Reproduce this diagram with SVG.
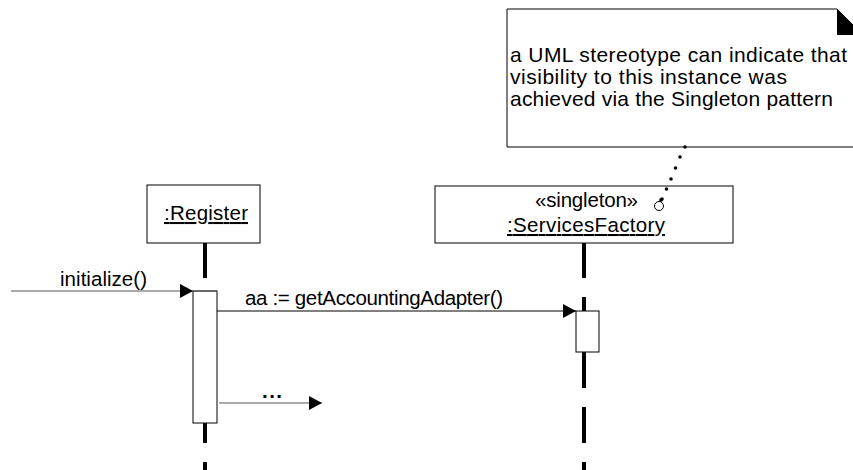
<svg xmlns="http://www.w3.org/2000/svg" width="853" height="470" viewBox="0 0 853 470">
<style>
text{font-family:"Liberation Sans",Arial,sans-serif;font-size:20.5px;fill:#000}
.note{font-size:21px}
.box{fill:#fff;stroke:#000;stroke-width:1}
.life{stroke:#000;stroke-width:4;stroke-dasharray:36 19}
.msg{stroke:#000;stroke-width:1;fill:none}
.grey{stroke:#555}
.dot{fill:#000}
</style>
<defs>
<marker id="arr" markerWidth="14" markerHeight="14" refX="13" refY="7" orient="auto" markerUnits="userSpaceOnUse">
<path d="M0,0 L13,7 L0,14 z" fill="#000"/>
</marker>
</defs>

<g id="note">
<path class="box" d="M507,9 L837,9 L863,35 L863,147 L507,147 Z"/>
<polygon points="837,9 837,35 863,35" fill="#000"/>
<text class="note" x="510" y="62" textLength="337" lengthAdjust="spacing">a UML stereotype can indicate that</text>
<text class="note" x="510" y="84" textLength="277" lengthAdjust="spacing">visibility to this instance was</text>
<text class="note" x="510" y="106" textLength="323" lengthAdjust="spacing">achieved via the Singleton pattern</text>
</g>

<g id="register">
<line class="life" x1="205" y1="242" x2="205" y2="470"/>
<rect class="box" x="147" y="185" width="113" height="58"/>
<text x="164" y="220" textLength="84" lengthAdjust="spacing" text-decoration="underline">:Register</text>
<rect id="register-activation" class="box" x="193" y="291" width="24" height="132"/>
</g>

<g id="servicesfactory">
<line class="life" x1="584" y1="242" x2="584" y2="470"/>
<rect class="box" x="435" y="186" width="298" height="57"/>
<text x="535" y="207" textLength="103" lengthAdjust="spacing">«singleton»</text>
<text x="507" y="232" textLength="158" lengthAdjust="spacing" text-decoration="underline">:ServicesFactory</text>
<rect id="sf-activation" class="box" x="576" y="311" width="23" height="41"/>
</g>

<g id="connectors">
<line class="msg grey" x1="11" y1="291" x2="193" y2="291" marker-end="url(#arr)"/>
<line class="msg grey" x1="193" y1="291" x2="217" y2="291"/>
<text x="60" y="286" textLength="87" lengthAdjust="spacing">initialize()</text>
<line class="msg" x1="217" y1="311" x2="576" y2="311" marker-end="url(#arr)"/>
<text x="245" y="305" textLength="258" lengthAdjust="spacing">aa := getAccountingAdapter()</text>
<line class="msg grey" x1="219" y1="403" x2="322" y2="403" marker-end="url(#arr)"/>
<text x="262" y="398" font-weight="bold" textLength="20" lengthAdjust="spacing">...</text>
<g id="note-link">
<circle class="dot" cx="685" cy="147" r="1.8"/>
<circle class="dot" cx="680" cy="157" r="1.8"/>
<circle class="dot" cx="675.5" cy="168" r="1.8"/>
<circle class="dot" cx="671" cy="179" r="1.8"/>
<circle class="dot" cx="666.5" cy="189" r="1.8"/>
<circle class="dot" cx="662" cy="199" r="1.8"/>
<circle cx="659" cy="206" r="4.5" fill="#fff" stroke="#000" stroke-width="1"/>
<circle class="dot" cx="661" cy="200" r="1.8"/>
</g>
</g>
</svg>
